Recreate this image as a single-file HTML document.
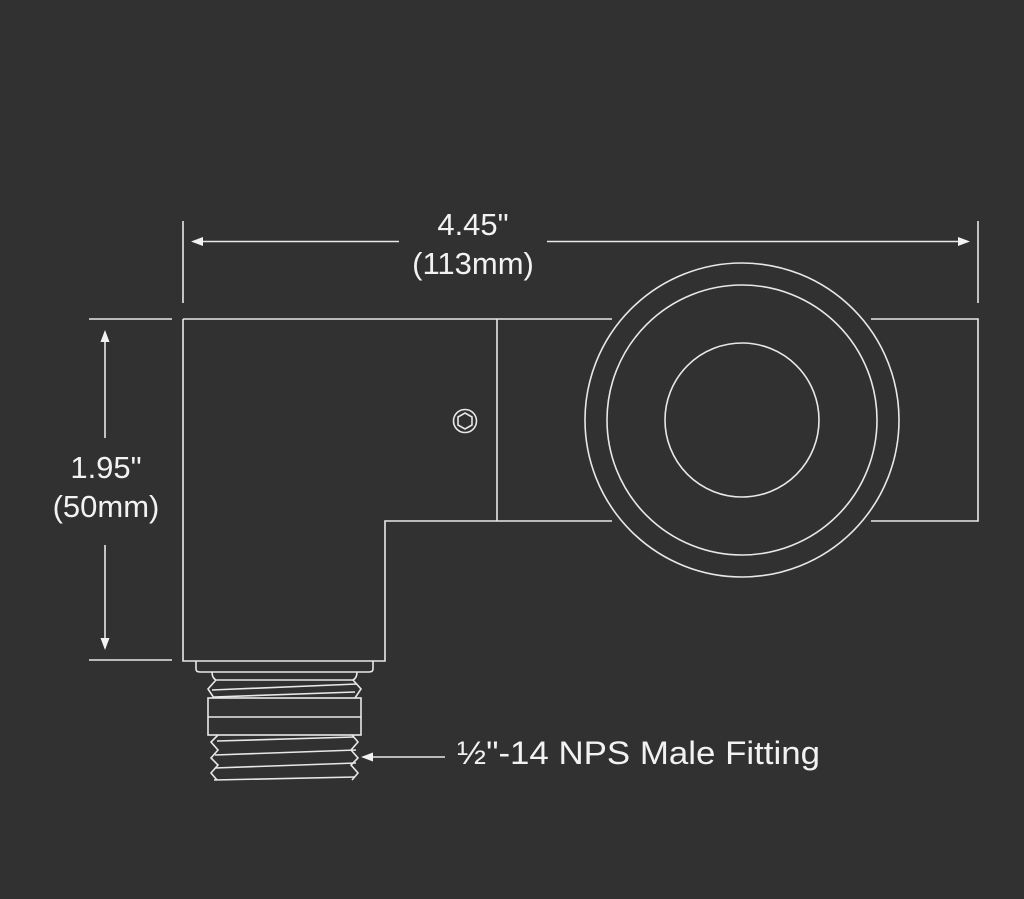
<!DOCTYPE html>
<html><head><meta charset="utf-8"><style>
html,body{margin:0;padding:0;background:#313131;}
svg{display:block}
text{font-family:"Liberation Sans",sans-serif;fill:#f2f2f2;}
</style></head><body>
<svg width="1024" height="899" viewBox="0 0 1024 899" xmlns="http://www.w3.org/2000/svg">
<rect width="1024" height="899" fill="#313131"/>
<g stroke="#e8e8e8" stroke-width="1.6" fill="none">
  <line x1="183" y1="221" x2="183" y2="303"/>
  <line x1="978" y1="221" x2="978" y2="303"/>
  <line x1="193" y1="241.5" x2="399" y2="241.5"/>
  <line x1="547" y1="241.5" x2="968" y2="241.5"/>
  <line x1="89" y1="319" x2="172" y2="319"/>
  <line x1="89" y1="660" x2="172" y2="660"/>
  <line x1="105" y1="332" x2="105" y2="438"/>
  <line x1="105" y1="545" x2="105" y2="648"/>
  <path d="M183 319 H612 M871 319 H978 V521 H871 M612 521 H385 V661 H183 V319"/>
  <line x1="497" y1="319" x2="497" y2="521"/>
  <circle cx="742" cy="420" r="157"/>
  <circle cx="742" cy="420" r="135"/>
  <circle cx="742" cy="420" r="77"/>
  <circle cx="465" cy="421" r="11.5"/>
  <polygon points="465,413 472,417 472,425 465,429 458,425 458,417"/>
  <path d="M196 661 V669 Q196 672 200 672 H369 Q373 672 373 669 V661"/>
  <path d="M212 672 Q212 678 216 680 H353 Q357 678 357 672"/>
  <path d="M216 680 L208 689 L214 698 M353 680 L361 689 L355 698"/>
  <line x1="212" y1="690" x2="357" y2="684"/>
  <line x1="214" y1="697" x2="355" y2="692"/>
  <rect x="208" y="698" width="153" height="37"/>
  <line x1="208" y1="717" x2="361" y2="717"/>
  <path d="M218 735 L211 742 L218 750 L211 758 L218 765 L211 773 L217 780"/>
  <path d="M352 735 L358 742 L351 750 L358 758 L351 765 L358 773 L352 780"/>
  <line x1="217" y1="741" x2="354" y2="737"/>
  <line x1="215" y1="755" x2="356" y2="750"/>
  <line x1="215" y1="768" x2="356" y2="763"/>
  <line x1="214" y1="780" x2="355" y2="777"/>
  <line x1="370" y1="757" x2="445" y2="757"/>
</g>
<g fill="#f2f2f2">
  <polygon points="191,241.5 203,237 203,246"/>
  <polygon points="970,241.5 958,237 958,246"/>
  <polygon points="105,330 100.5,342 109.5,342"/>
  <polygon points="105,650 100.5,638 109.5,638"/>
  <polygon points="361,757 373,752.5 373,761.5"/>
</g>
<text x="473" y="235" font-size="31" text-anchor="middle">4.45"</text>
<text x="473" y="274" font-size="31" text-anchor="middle">(113mm)</text>
<text x="106" y="478" font-size="31" text-anchor="middle">1.95"</text>
<text x="106" y="517" font-size="31" text-anchor="middle">(50mm)</text>
<text x="457" y="764" font-size="32" textLength="363" lengthAdjust="spacingAndGlyphs">½"-14 NPS Male Fitting</text>
</svg>
</body></html>
